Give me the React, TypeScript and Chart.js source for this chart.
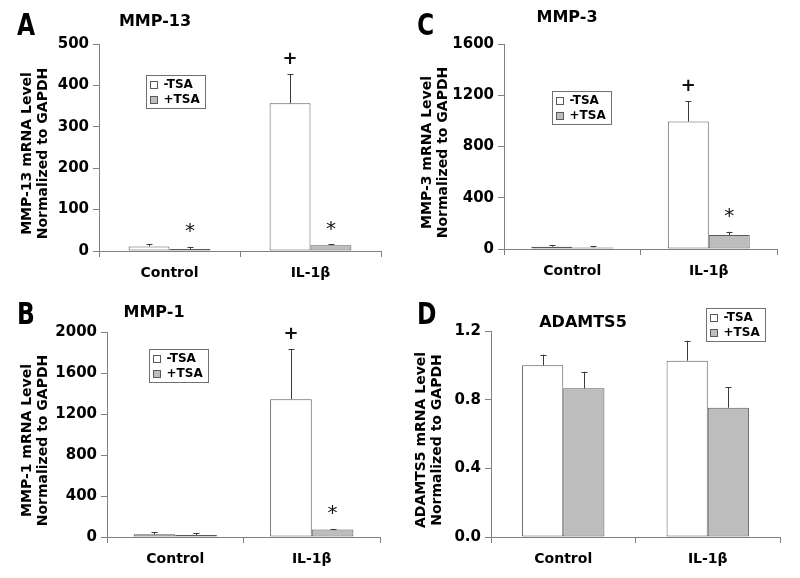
import React, { useEffect, useRef } from 'react';
import { Chart, registerables } from 'chart.js';

Chart.register(...registerables);

// ---------- data ----------
const categories = ['Control', 'IL-1β'];
const seriesLabels = ['-TSA', '+TSA'];

const mmp13NoTsa = [11, 357];
const mmp13NoTsaErr = [6, 70];
const mmp13Tsa = [5, 14];
const mmp13TsaErr = [5, 2];
const mmp13Ticks = [0, 100, 200, 300, 400, 500];
const mmp13Marks: [number, number, string][] = [[0, 1, '+'], [1, 0, '*'], [1, 1, '*']];

const mmp3NoTsa = [18, 995];
const mmp3NoTsaErr = [10, 160];
const mmp3Tsa = [12, 110];
const mmp3TsaErr = [10, 25];
const mmp3Ticks = [0, 400, 800, 1200, 1600];
const mmp3Marks: [number, number, string][] = [[0, 1, '+'], [1, 1, '*']];

const mmp1NoTsa = [26, 1345];
const mmp1NoTsaErr = [18, 490];
const mmp1Tsa = [20, 72];
const mmp1TsaErr = [15, 8];
const mmp1Ticks = [0, 400, 800, 1200, 1600, 2000];
const mmp1Marks: [number, number, string][] = [[0, 1, '+'], [1, 1, '*']];

const adamts5NoTsa = [1.0, 1.027];
const adamts5NoTsaErr = [0.062, 0.116];
const adamts5Tsa = [0.866, 0.753];
const adamts5TsaErr = [0.097, 0.119];
const adamts5Ticks = [0, 0.4, 0.8, 1.2];
const adamts5Marks: [number, number, string][] = [];

// ---------- styles / layout ----------
const FONT = '"DejaVu Sans", Verdana, sans-serif';
const WHITE = '#ffffff';
const GRAY = '#bdbdbd';
const BAR_BORDER = '#5a5a5a';
const AXIS = '#808080';
const CW = 400;
const CH = 289;

const panels = [
  {
    letter: 'A', title: 'MMP-13', yTitle: ['MMP-13 mRNA Level', 'Normalized to GAPDH'],
    x: 0, y: 0, area: { l: 99, r: 381, t: 44, b: 251 }, cat: 0.58, yTitleX: 27,
    titleX: 155, titleY: 22, legendX: 146, legendY: 75,
    a: mmp13NoTsa, ae: mmp13NoTsaErr, b: mmp13Tsa, be: mmp13TsaErr, ticks: mmp13Ticks, marks: mmp13Marks, dec: 0,
  },
  {
    letter: 'C', title: 'MMP-3', yTitle: ['MMP-3 mRNA Level', 'Normalized to GAPDH'],
    x: 400, y: 0, area: { l: 104, r: 377, t: 44, b: 249 }, cat: 0.6, yTitleX: 27,
    titleX: 167, titleY: 18, legendX: 152, legendY: 91,
    a: mmp3NoTsa, ae: mmp3NoTsaErr, b: mmp3Tsa, be: mmp3TsaErr, ticks: mmp3Ticks, marks: mmp3Marks, dec: 0,
  },
  {
    letter: 'B', title: 'MMP-1', yTitle: ['MMP-1 mRNA Level', 'Normalized to GAPDH'],
    x: 0, y: 289, area: { l: 107, r: 380, t: 43, b: 248 }, cat: 0.61, yTitleX: 27,
    titleX: 154, titleY: 24, legendX: 149, legendY: 60,
    a: mmp1NoTsa, ae: mmp1NoTsaErr, b: mmp1Tsa, be: mmp1TsaErr, ticks: mmp1Ticks, marks: mmp1Marks, dec: 0,
  },
  {
    letter: 'D', title: 'ADAMTS5', yTitle: ['ADAMTS5 mRNA Level', 'Normalized to GAPDH'],
    x: 400, y: 289, area: { l: 91, r: 380, t: 42, b: 248 }, cat: 0.57, yTitleX: 21,
    titleX: 183, titleY: 34, legendX: 306, legendY: 19,
    a: adamts5NoTsa, ae: adamts5NoTsaErr, b: adamts5Tsa, be: adamts5TsaErr, ticks: adamts5Ticks, marks: adamts5Marks, dec: 1,
  },
];

const decorPlugin = {
  id: 'decor',
  afterDatasetsDraw(chart: any, _args: any, opts: any) {
    const ctx = chart.ctx;
    const ys = chart.scales.y;
    const errTops: number[][] = [];
    chart.data.datasets.forEach((ds: any, di: number) => {
      const meta = chart.getDatasetMeta(di);
      errTops[di] = [];
      meta.data.forEach((bar: any, i: number) => {
        const v = ds.data[i];
        const e = ds.errors[i];
        const top = ys.getPixelForValue(v + e);
        errTops[di][i] = top;
        const x = Math.round(bar.x) + 0.5;
        ctx.save();
        ctx.strokeStyle = '#3a3a3a';
        ctx.lineWidth = 1;
        ctx.beginPath();
        ctx.moveTo(x, bar.y);
        ctx.lineTo(x, top);
        ctx.moveTo(x - 3, Math.round(top) + 0.5);
        ctx.lineTo(x + 3, Math.round(top) + 0.5);
        ctx.stroke();
        ctx.restore();
      });
    });
    // significance marks
    (opts.marks || []).forEach((m: [number, number, string]) => {
      const [di, i, t] = m;
      const bar = chart.getDatasetMeta(di).data[i];
      const gap = t === '+' ? 16 : 19;
      const cy = errTops[di][i] - gap;
      ctx.save();
      ctx.fillStyle = '#111';
      ctx.font = (t === '+' ? 'bold 18px ' : '20px ') + FONT;
      ctx.textAlign = 'center';
      ctx.textBaseline = 'alphabetic';
      const mt = ctx.measureText(t);
      const base = cy + (mt.actualBoundingBoxAscent - mt.actualBoundingBoxDescent) / 2;
      ctx.fillText(t, bar.x, base);
      ctx.restore();
    });
  },
  afterDraw(chart: any, _args: any, opts: any) {
    const ctx = chart.ctx;
    const area = chart.chartArea;
    ctx.save();
    // panel letter (condensed)
    ctx.fillStyle = '#000';
    ctx.save();
    ctx.translate(17, 35);
    ctx.scale(0.78, 1);
    ctx.font = 'bold 30px ' + FONT;
    ctx.textAlign = 'left';
    ctx.textBaseline = 'alphabetic';
    ctx.fillText(opts.letter, 0, 0);
    ctx.restore();
    // title
    ctx.font = 'bold 16px ' + FONT;
    ctx.textAlign = 'center';
    ctx.textBaseline = 'middle';
    ctx.fillText(opts.title, opts.titleX, opts.titleY);
    // y axis title (two lines)
    ctx.save();
    ctx.translate(opts.yTitleX, (area.top + area.bottom) / 2 + 6);
    ctx.rotate(-Math.PI / 2);
    ctx.font = 'bold 14px ' + FONT;
    ctx.textAlign = 'center';
    ctx.textBaseline = 'middle';
    opts.yTitle.forEach((line: string, k: number) => {
      ctx.fillText(line, 0, k * 16);
    });
    ctx.restore();
    // legend
    const lx = opts.legendX + 0.5;
    const ly = opts.legendY + 0.5;
    const w = 59;
    const h = 33;
    ctx.fillStyle = '#fff';
    ctx.fillRect(lx, ly, w, h);
    ctx.strokeStyle = '#707070';
    ctx.lineWidth = 1;
    ctx.strokeRect(lx, ly, w, h);
    ctx.font = 'bold 12px ' + FONT;
    ctx.textAlign = 'left';
    ctx.textBaseline = 'middle';
    chart.data.datasets.forEach((ds: any, di: number) => {
      const cy = ly + 9 + di * 15;
      ctx.fillStyle = ds.backgroundColor;
      ctx.fillRect(lx + 4, Math.round(cy - 4) + 0.5, 7, 7);
      ctx.strokeStyle = BAR_BORDER;
      ctx.strokeRect(lx + 4, Math.round(cy - 4) + 0.5, 7, 7);
      ctx.fillStyle = '#000';
      ctx.fillText(ds.label, lx + 17, cy + 0.5);
    });
    ctx.restore();
  },
};

function Panel({ p }: { p: any }) {
  const ref = useRef<HTMLCanvasElement>(null);
  useEffect(() => {
    const chart = new Chart(ref.current as HTMLCanvasElement, {
      type: 'bar',
      data: {
        labels: categories,
        datasets: [
          {
            label: seriesLabels[0], data: p.a, errors: p.ae, backgroundColor: WHITE,
            borderColor: BAR_BORDER, borderWidth: 1, borderSkipped: false,
            barPercentage: 1, categoryPercentage: p.cat,
          } as any,
          {
            label: seriesLabels[1], data: p.b, errors: p.be, backgroundColor: GRAY,
            borderColor: BAR_BORDER, borderWidth: 1, borderSkipped: false,
            barPercentage: 1, categoryPercentage: p.cat,
          } as any,
        ],
      },
      options: {
        responsive: false,
        animation: false,
        events: [],
        layout: { padding: { left: 0, top: p.area.t, right: CW - p.area.r, bottom: 0 } },
        plugins: {
          legend: { display: false },
          tooltip: { enabled: false },
          decor: {
            letter: p.letter, title: p.title, titleX: p.titleX, titleY: p.titleY,
            legendX: p.legendX, legendY: p.legendY, marks: p.marks,
            yTitle: p.yTitle, yTitleX: p.yTitleX,
          },
        } as any,
        scales: {
          x: {
            offset: true,
            grid: { display: true, drawOnChartArea: false, drawTicks: true, tickLength: 6, color: AXIS, offset: true },
            border: { display: true, color: AXIS, width: 1 },
            ticks: { color: '#000', font: { family: FONT, size: 14, weight: 'bold' }, padding: 8, maxRotation: 0 },
            afterFit: (s: any) => { s.height = CH - p.area.b; },
          },
          y: {
            min: 0,
            max: p.ticks[p.ticks.length - 1],
            afterBuildTicks: (s: any) => { s.ticks = p.ticks.map((v: number) => ({ value: v })); },
            grid: { display: true, drawOnChartArea: false, drawTicks: true, tickLength: 6, color: AXIS },
            border: { display: true, color: AXIS, width: 1 },
            ticks: {
              color: '#000', font: { family: FONT, size: 15, weight: 'bold' }, padding: 4,
              callback: (v: any) => Number(v).toFixed(p.dec),
            },
            title: { display: false },
            afterFit: (s: any) => { s.width = p.area.l; },
          },
        },
      },
      plugins: [decorPlugin],
    });
    return () => chart.destroy();
  }, []);
  return (
    <canvas
      ref={ref}
      width={CW}
      height={CH}
      style={{ position: 'absolute', left: p.x, top: p.y, width: CW, height: CH, display: 'block' }}
    />
  );
}

export default function App() {
  useEffect(() => {
    document.body.style.margin = '0';
    document.body.style.background = '#fff';
  }, []);
  return (
    <div style={{ position: 'relative', width: 800, height: 578, background: '#fff', overflow: 'hidden' }}>
      {panels.map((p) => (
        <Panel key={p.letter} p={p} />
      ))}
    </div>
  );
}
